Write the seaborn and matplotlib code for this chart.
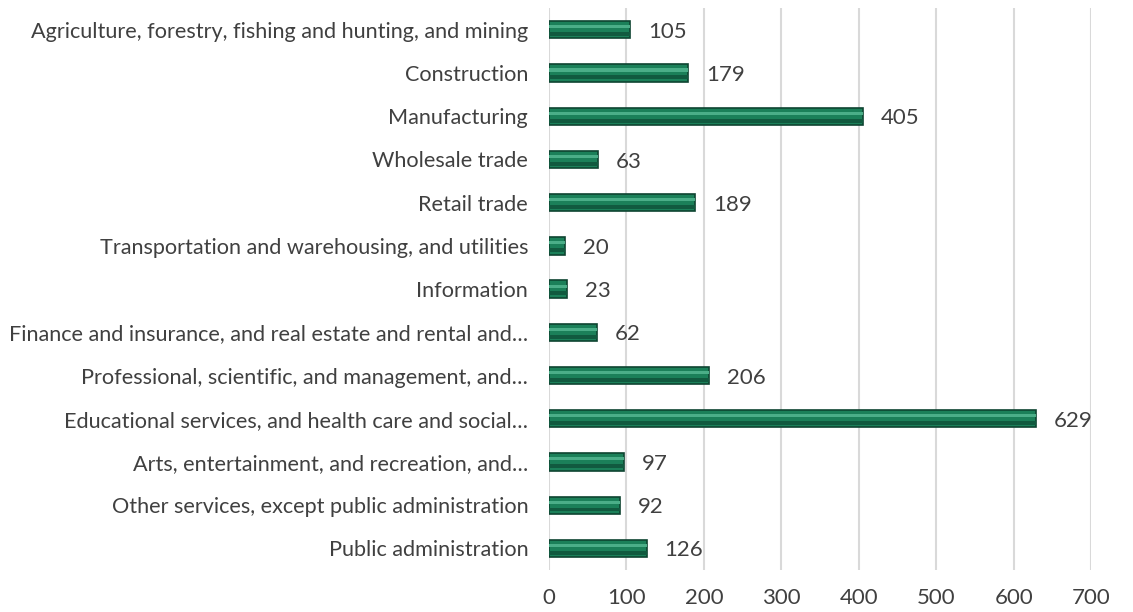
import matplotlib
matplotlib.use("Agg")
import matplotlib.pyplot as plt
import seaborn as sns
import pandas as pd

# dados
categorias = [
    "Agriculture, forestry, fishing and hunting, and mining",
    "Construction",
    "Manufacturing",
    "Wholesale trade",
    "Retail trade",
    "Transportation and warehousing, and utilities",
    "Information",
    "Finance and insurance, and real estate and rental and…",
    "Professional, scientific, and management, and…",
    "Educational services, and health care and social…",
    "Arts, entertainment, and recreation, and…",
    "Other services, except public administration",
    "Public administration",
]
valores = [105, 179, 405, 63, 189, 20, 23, 62, 206, 629, 97, 92, 126]
xticks = [0, 100, 200, 300, 400, 500, 600, 700]

df = pd.DataFrame({"categoria": categorias, "valor": valores})

sns.set_style("white")
plt.rcParams["font.family"] = ["Lato", "DejaVu Sans"]

fig = plt.figure(figsize=(11.33, 6.12), dpi=100)
ax = fig.add_axes([0.4846, 0.0686, 0.4784, 0.918])

# barras principais
sns.barplot(data=df, x="valor", y="categoria", orient="h", color="#1B8059",
            width=0.4, edgecolor="#0E4431", linewidth=1.2, saturation=1, ax=ax)

# faixas claro/escuro (efeito de bisel)
pos = range(len(valores))
ax.barh([p - 0.07 for p in pos], valores, height=0.07, color="#4BAE88",
        linewidth=0, zorder=3)
ax.barh([p + 0.1 for p in pos], valores, height=0.09, color="#115A3F",
        linewidth=0, zorder=3)

# rótulos de valor
for p, v in zip(pos, valores):
    ax.annotate(str(v), (v, p), xytext=(13, -1.5), textcoords="offset points",
                ha="left", va="center", fontsize=16, color="#404040")

ax.set_xlim(0, 700)
ax.set_ylim(len(valores) - 0.5, -0.5)
ax.set_xticks(xticks)
ax.grid(axis="x", color="#D9D9D9", linewidth=1.5)
ax.set_axisbelow(True)
for s in ax.spines.values():
    s.set_visible(False)
ax.tick_params(axis="y", length=0, pad=15, labelsize=15.6, labelcolor="#404040")
ax.tick_params(axis="x", length=0, pad=13, labelsize=16, labelcolor="#404040")
ax.set_xlabel("")
ax.set_ylabel("")

fig.savefig("out.png", dpi=100)
